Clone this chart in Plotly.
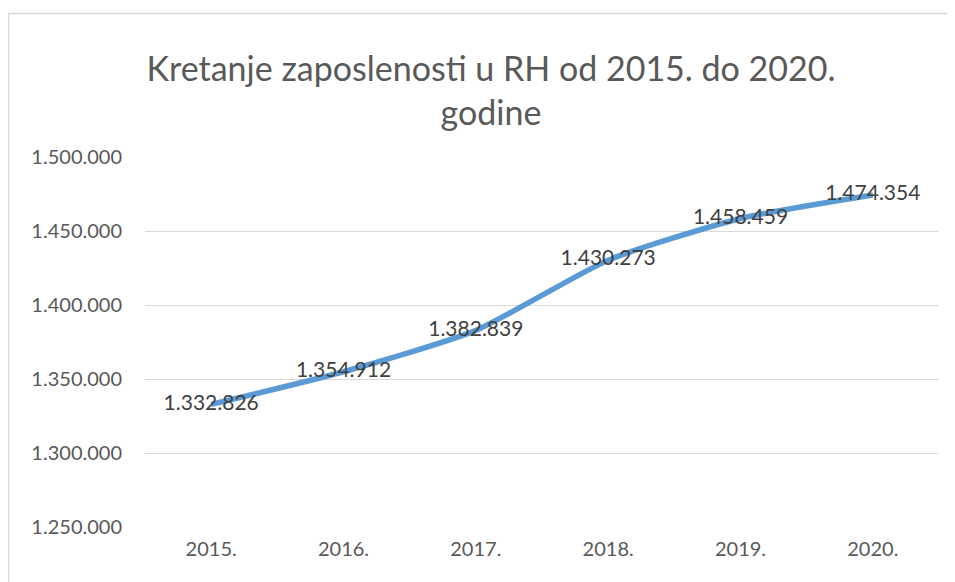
import plotly.graph_objects as go

years = ["2015.", "2016.", "2017.", "2018.", "2019.", "2020."]
employed = [1332826, 1354912, 1382839, 1430273, 1458459, 1474354]
title_text = "Kretanje zaposlenosti u RH od 2015. do 2020.<br>godine"

OFF = 8  # default page body margin
W, H = 955 - OFF, 582 - OFF
L, R, T, B = 145 - OFF, 939 - OFF, 157 - OFF, 527 - OFF
FONT = "Lato, Open Sans, sans-serif"

fig = go.Figure()
fig.add_trace(go.Scatter(
    x=years, y=employed, mode="lines+text",
    line=dict(color="#5B9BD5", width=5.5, shape="spline", smoothing=0.6),
    text=[f"{v:,}".replace(",", ".") for v in employed],
    textposition="middle center",
    textfont=dict(family=FONT, size=21, color="#404040"),
    hoverinfo="skip", cliponaxis=False,
))

def px(xp):
    return (xp - OFF - L) / (R - L)

def py(yp):
    return (B - (yp - OFF)) / (B - T)

fig.update_layout(
    width=W, height=H,
    margin=dict(l=L, r=W - R, t=T, b=H - B, autoexpand=False),
    paper_bgcolor="white", plot_bgcolor="white",
    separators=",.",
    showlegend=False,
    title=dict(text=title_text, x=(491 - OFF) / W, xanchor="center",
               y=1 - (81 - OFF) / H, yanchor="middle",
               font=dict(family=FONT, size=34, color="#595959")),
    xaxis=dict(type="category", showgrid=False, showline=False, zeroline=False,
               ticks="", tickfont=dict(family=FONT, size=20, color="#595959"),
               ticklabelstandoff=8, range=[-0.5, 5.5]),
    yaxis=dict(range=[1250000, 1500000], dtick=50000, tickformat=",d",
               showgrid=True, gridcolor="#d9d9d9", gridwidth=1.3, zeroline=False,
               showline=False, ticks="",
               tickfont=dict(family=FONT, size=20, color="#595959"),
               ticklabelstandoff=22),
    shapes=[
        dict(type="line", xref="paper", yref="paper", x0=px(8.5), x1=px(960), y0=py(13.5), y1=py(13.5),
             line=dict(color="#d9d9d9", width=1.5)),
        dict(type="line", xref="paper", yref="paper", x0=px(8.5), x1=px(8.5), y0=py(13.5), y1=py(590),
             line=dict(color="#d9d9d9", width=1.5)),
    ],
)

fig.write_html("out.html")
